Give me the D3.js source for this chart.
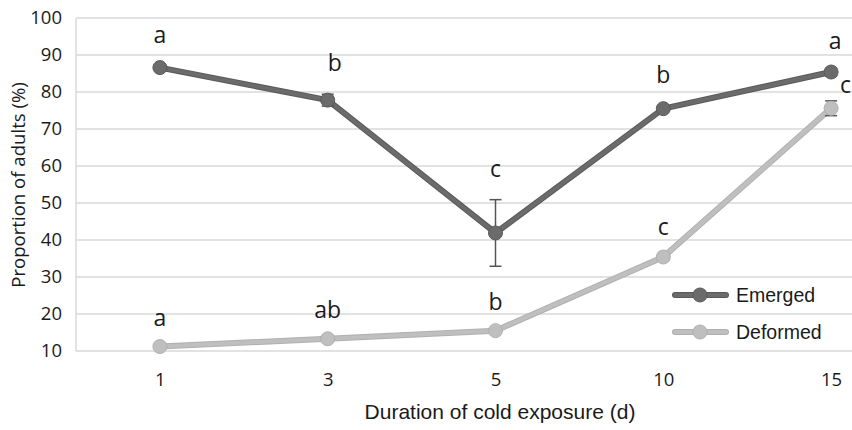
<!DOCTYPE html>
<html>
<head>
<meta charset="utf-8">
<script src="https://cdn.jsdelivr.net/npm/d3@7"></script>
<style>
  body { margin: 0; background: #fff; }
  text { font-family: "Open Sans", "Noto Sans", sans-serif; fill: #1a1a1a; }
  .arial { font-family: "Liberation Sans", Arial, sans-serif; }
</style>
</head>
<body>
<div class="chart"></div>
<script>
// categories and values
const days = ['1', '3', '5', '10', '15'];
const emerged = [86.6, 77.8, 41.9, 75.5, 85.4];
const emergedErr = [0.5, 1.6, 9.0, 0.8, 1.0];
const emergedLetters = ['a', 'b', 'c', 'b', 'a'];
const deformed = [11.2, 13.3, 15.5, 35.4, 75.6];
const deformedErr = [0.3, 0.4, 0.4, 0.8, 2.0];
const deformedLetters = ['a', 'ab', 'b', 'c', 'c'];
const yTicks = [10, 20, 30, 40, 50, 60, 70, 80, 90, 100];

let config = {
  W: 852, H: 430,
  left: 76, top: 18, plotW: 839, plotH: 333,
  dark: '#6b6b6b', light: '#bfbfbf'
};

let svg = d3.select('.chart').append('svg')
  .attr('width', config.W).attr('height', config.H);

let x = d3.scalePoint().domain(days).range([config.left, config.left + config.plotW]).padding(0.5);
let y = d3.scaleLinear().domain([10, 100]).range([config.top + config.plotH, config.top]);

// gridlines
svg.append('g').selectAll('line').data(yTicks).enter().append('line')
  .attr('x1', config.left).attr('x2', config.W)
  .attr('y1', d => y(d)).attr('y2', d => y(d))
  .attr('stroke', '#d9d9d9').attr('stroke-width', 1.5);
svg.append('line')
  .attr('x1', config.left).attr('x2', config.left)
  .attr('y1', y(100)).attr('y2', y(10))
  .attr('stroke', '#d9d9d9').attr('stroke-width', 1.5);

// y axis
let yAxis = d3.axisLeft(y).tickValues(yTicks).tickSize(0).tickPadding(14);
let gy = svg.append('g').attr('transform', `translate(${config.left},0)`).call(yAxis);
gy.select('.domain').remove();
gy.selectAll('text').style('font-size', '18.5px').attr('fill', '#1a1a1a')
  .style('font-family', '"Open Sans", sans-serif');

// x axis
let xAxis = d3.axisBottom(x).tickSize(0).tickPadding(22);
let gx = svg.append('g').attr('transform', `translate(0,${y(10)})`).call(xAxis);
gx.select('.domain').remove();
gx.selectAll('text').style('font-size', '18.5px').attr('fill', '#1a1a1a')
  .style('font-family', '"Open Sans", sans-serif');

// axis titles
svg.append('text').attr('class', 'arial')
  .attr('x', 500).attr('y', 419)
  .attr('text-anchor', 'middle').style('font-size', '21px')
  .text('Duration of cold exposure (d)');
svg.append('text')
  .attr('transform', 'translate(25,185) rotate(-90)')
  .attr('text-anchor', 'middle').style('font-size', '18.6px')
  .text('Proportion of adults (%)');

function drawSeries(vals, errs, color, stroke) {
  let g = svg.append('g');
  let line = d3.line().x((d, i) => x(days[i])).y(d => y(d));
  g.append('path').datum(vals)
    .attr('d', line).attr('fill', 'none')
    .attr('stroke', stroke).attr('stroke-width', 6).attr('stroke-linejoin', 'round');
  g.append('path').datum(vals)
    .attr('d', line).attr('fill', 'none')
    .attr('stroke', color).attr('stroke-width', 4).attr('stroke-linejoin', 'round');
  // error bars
  let eb = g.selectAll('g.err').data(vals).enter().append('g').attr('class', 'err');
  eb.append('line')
    .attr('x1', (d, i) => x(days[i])).attr('x2', (d, i) => x(days[i]))
    .attr('y1', (d, i) => y(d + errs[i])).attr('y2', (d, i) => y(d - errs[i]))
    .attr('stroke', '#555').attr('stroke-width', 1.5);
  ['+', '-'].forEach(s => {
    eb.append('line')
      .attr('x1', (d, i) => x(days[i]) - 6).attr('x2', (d, i) => x(days[i]) + 6)
      .attr('y1', (d, i) => y(s === '+' ? d + errs[i] : d - errs[i]))
      .attr('y2', (d, i) => y(s === '+' ? d + errs[i] : d - errs[i]))
      .attr('stroke', '#555').attr('stroke-width', 1.5);
  });
  g.selectAll('circle').data(vals).enter().append('circle')
    .attr('cx', (d, i) => x(days[i])).attr('cy', d => y(d))
    .attr('r', 7).attr('fill', color).attr('stroke', stroke).attr('stroke-width', 1);
}

drawSeries(deformed, deformedErr, config.light, '#b0b0b0');
drawSeries(emerged, emergedErr, config.dark, '#5a5a5a');

// significance letters
svg.append('g').selectAll('text').data(emerged).enter().append('text')
  .attr('x', (d, i) => x(days[i]) + (i === 1 ? 7 : 0) + (i === 4 ? 4 : 0))
  .attr('y', (d, i) => y(d + emergedErr[i]) - (i === 4 ? 19 : 23))
  .attr('text-anchor', 'middle').style('font-size', '23px')
  .text((d, i) => emergedLetters[i]);
svg.append('g').selectAll('text').data(deformed).enter().append('text')
  .attr('x', (d, i) => i === 4 ? x(days[i]) + 9 : x(days[i]))
  .attr('y', (d, i) => i === 4 ? y(d) - 15 : y(d + deformedErr[i]) - 19)
  .attr('text-anchor', (d, i) => i === 4 ? 'start' : 'middle').style('font-size', '23px')
  .text((d, i) => deformedLetters[i]);

// legend
let legend = [['Emerged', config.dark, '#5a5a5a', 295], ['Deformed', config.light, '#b0b0b0', 332]];
legend.forEach(l => {
  let g = svg.append('g');
  g.append('line').attr('x1', 675).attr('x2', 726).attr('y1', l[3]).attr('y2', l[3])
    .attr('stroke', l[2]).attr('stroke-width', 6).attr('stroke-linecap', 'round');
  g.append('line').attr('x1', 675).attr('x2', 726).attr('y1', l[3]).attr('y2', l[3])
    .attr('stroke', l[1]).attr('stroke-width', 4).attr('stroke-linecap', 'round');
  g.append('circle').attr('cx', 700).attr('cy', l[3]).attr('r', 7)
    .attr('fill', l[1]).attr('stroke', l[2]);
  g.append('text').attr('class', 'arial').attr('x', 736).attr('y', l[3] + 7)
    .style('font-size', '19.5px').text(l[0]);
});
</script>
</body>
</html>
